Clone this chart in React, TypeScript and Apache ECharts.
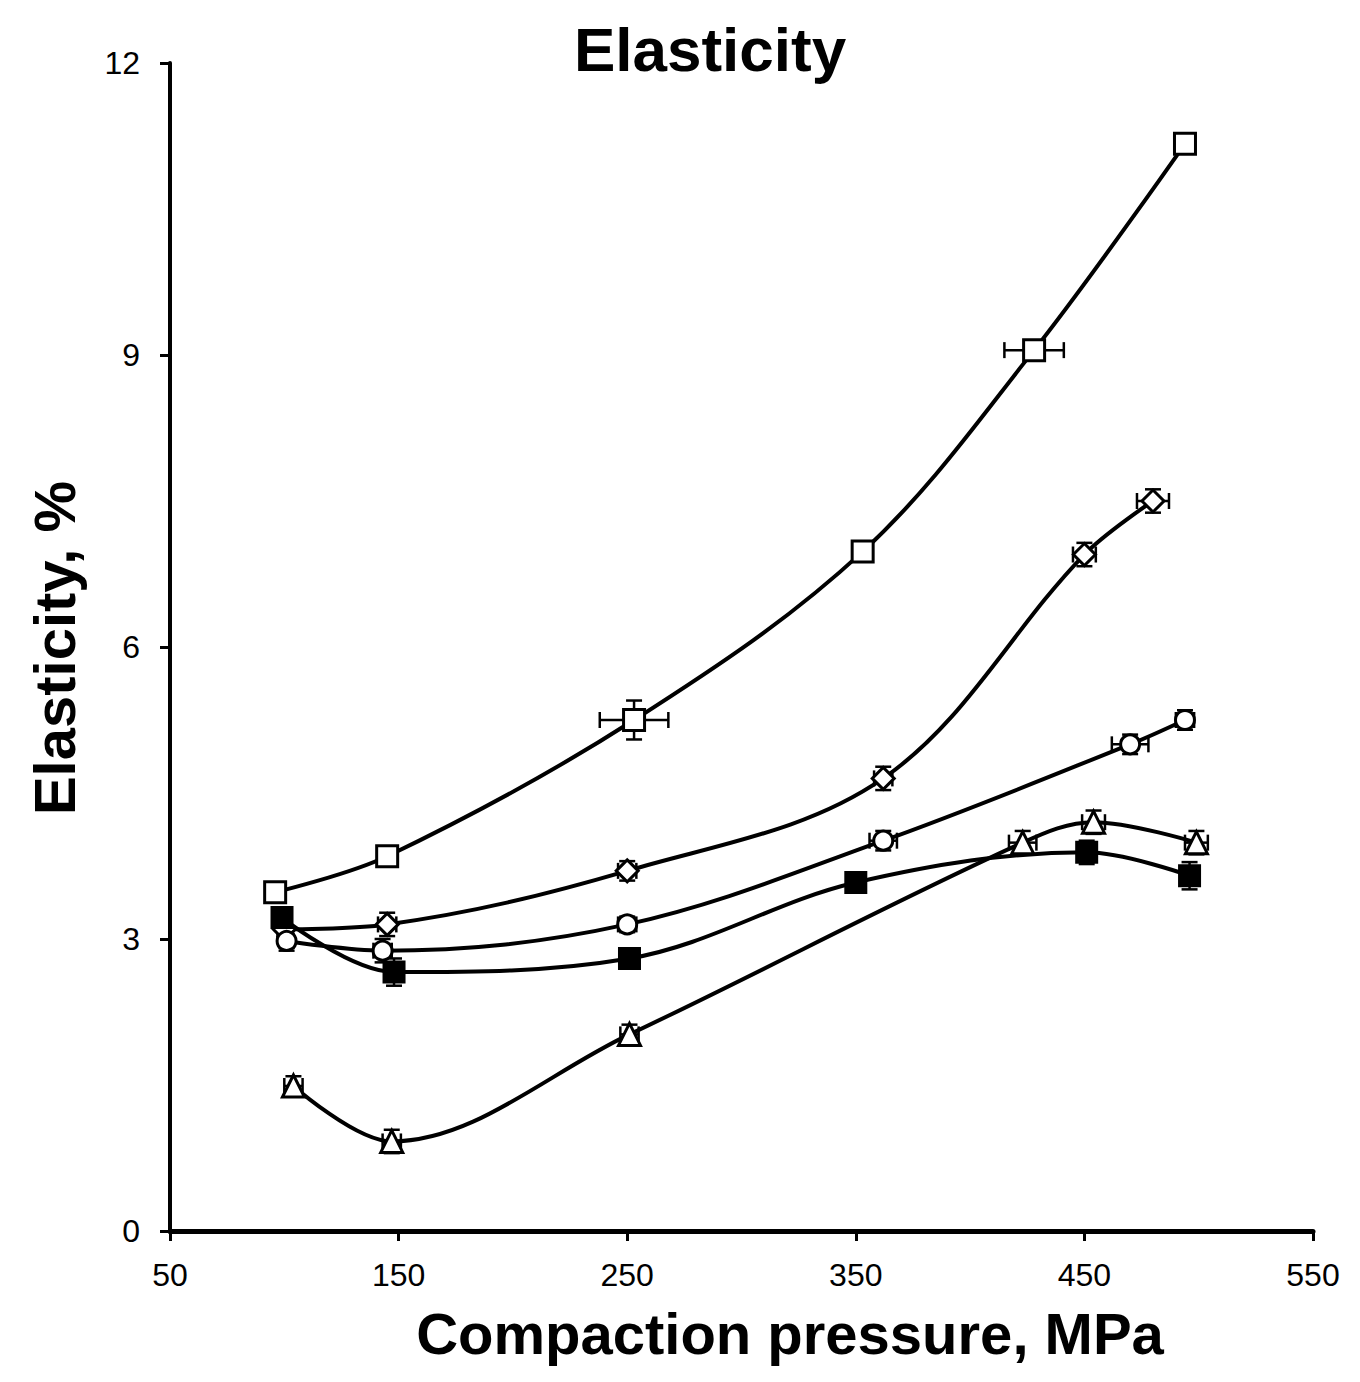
import { useEffect, useRef } from 'react';
import * as echarts from 'echarts';

// axis ticks
const xTicks = [50, 150, 250, 350, 450, 550];
const yTicks = [0, 3, 6, 9, 12];

// each point: [pressure MPa, elasticity %, x error, y error]
const openSquare = [
  [96, 3.48, 3, 0.1],
  [145, 3.85, 3, 0.08],
  [253, 5.25, 15, 0.2],
  [353, 6.98, 4, 0.1],
  [428, 9.05, 13, 0.1],
  [494, 11.17, 3, 0.1],
];
const openDiamond = [
  [100, 3.1, 3, 0.08],
  [145, 3.15, 4, 0.12],
  [250, 3.7, 4, 0.1],
  [362, 4.65, 4, 0.12],
  [450, 6.95, 5, 0.12],
  [480, 7.5, 7, 0.12],
];
const openCircle = [
  [101, 2.98, 3, 0.1],
  [143, 2.88, 4, 0.12],
  [250, 3.15, 4, 0.08],
  [362, 4.01, 6, 0.1],
  [470, 5.0, 8, 0.1],
  [494, 5.25, 4, 0.1],
];
const filledSquare = [
  [99, 3.22, 3, 0.1],
  [148, 2.66, 3, 0.14],
  [251, 2.8, 3, 0.1],
  [350, 3.58, 3, 0.1],
  [451, 3.89, 3, 0.12],
  [496, 3.65, 3, 0.14],
];
const openTriangle = [
  [104, 1.49, 4, 0.1],
  [147, 0.92, 4, 0.12],
  [251, 2.02, 4, 0.1],
  [423, 3.99, 6, 0.12],
  [454, 4.2, 5, 0.12],
  [499, 3.99, 5, 0.12],
];

const seriesDefs = [
  { name: 'Open square', data: openSquare, symbol: 'rect', size: 21, fill: '#fff' },
  { name: 'Open diamond', data: openDiamond, symbol: 'diamond', size: 22, fill: '#fff' },
  { name: 'Open circle', data: openCircle, symbol: 'circle', size: 19, fill: '#fff' },
  { name: 'Filled square', data: filledSquare, symbol: 'rect', size: 20, fill: '#000' },
  { name: 'Open triangle', data: openTriangle, symbol: 'triangle', size: 22, fill: '#fff' },
];

const App = () => {
  const chartRef = useRef<HTMLDivElement>(null);

  useEffect(() => {
    if (!chartRef.current) return;
    const chart = echarts.init(chartRef.current, undefined, { renderer: 'svg' });

    const errorBars = (params: any, api: any) => {
      const x = api.value(0);
      const y = api.value(1);
      const ex = api.value(2);
      const ey = api.value(3);
      const c = api.coord([x, y]);
      const l = api.coord([x - ex, y]);
      const r = api.coord([x + ex, y]);
      const t = api.coord([x, y + ey]);
      const b = api.coord([x, y - ey]);
      const cap = 8;
      const style = { stroke: '#000', lineWidth: 2.5 };
      return {
        type: 'group',
        children: [
          { type: 'line', shape: { x1: l[0], y1: c[1], x2: r[0], y2: c[1] }, style },
          { type: 'line', shape: { x1: l[0], y1: c[1] - cap, x2: l[0], y2: c[1] + cap }, style },
          { type: 'line', shape: { x1: r[0], y1: c[1] - cap, x2: r[0], y2: c[1] + cap }, style },
          { type: 'line', shape: { x1: c[0], y1: t[1], x2: c[0], y2: b[1] }, style },
          { type: 'line', shape: { x1: c[0] - cap, y1: t[1], x2: c[0] + cap, y2: t[1] }, style },
          { type: 'line', shape: { x1: c[0] - cap, y1: b[1], x2: c[0] + cap, y2: b[1] }, style },
        ],
      };
    };

    const series: any[] = [];
    seriesDefs.forEach((s) => {
      series.push({
        name: s.name + ' error',
        type: 'custom',
        renderItem: errorBars,
        encode: { x: 0, y: 1 },
        data: s.data,
        z: 1,
        silent: true,
      });
      series.push({
        name: s.name,
        type: 'line',
        smooth: 0.35,
        data: s.data.map((d) => [d[0], d[1]]),
        symbol: s.symbol,
        symbolSize: s.size,
        showAllSymbol: true,
        lineStyle: { color: '#000', width: 4 },
        itemStyle: { color: s.fill, borderColor: '#000', borderWidth: 3 },
        z: 2,
      });
    });

    const labelFont = {
      fontFamily: 'Liberation Sans, Arial, sans-serif',
      fontSize: 32,
      color: '#000',
    };

    chart.setOption({
      animation: false,
      backgroundColor: '#fff',
      grid: { left: 162, top: 55, width: 1143, height: 1168 },
      xAxis: {
        type: 'value',
        min: xTicks[0],
        max: xTicks[xTicks.length - 1],
        interval: xTicks[1] - xTicks[0],
        splitLine: { show: false },
        axisLine: { lineStyle: { color: '#000', width: 5 } },
        axisTick: { length: 10, lineStyle: { color: '#000', width: 3 } },
        axisLabel: { ...labelFont, margin: 28 },
      },
      yAxis: {
        type: 'value',
        min: yTicks[0],
        max: yTicks[yTicks.length - 1],
        interval: yTicks[1] - yTicks[0],
        splitLine: { show: false },
        axisLine: { show: true, lineStyle: { color: '#000', width: 4 } },
        axisTick: { show: true, length: 10, lineStyle: { color: '#000', width: 3 } },
        axisLabel: { ...labelFont, margin: 30 },
      },
      graphic: [
        {
          type: 'text',
          x: 702,
          y: 41,
          style: {
            text: 'Elasticity',
            font: 'bold 62px Liberation Sans, Arial, sans-serif',
            fill: '#000',
            textAlign: 'center',
            textVerticalAlign: 'middle',
          },
        },
        {
          type: 'text',
          x: 782,
          y: 1325,
          style: {
            text: 'Compaction pressure, MPa',
            font: 'bold 58px Liberation Sans, Arial, sans-serif',
            fill: '#000',
            textAlign: 'center',
            textVerticalAlign: 'middle',
          },
        },
        {
          type: 'text',
          x: 46,
          y: 640,
          rotation: Math.PI / 2,
          style: {
            text: 'Elasticity, %',
            font: 'bold 58px Liberation Sans, Arial, sans-serif',
            fill: '#000',
            textAlign: 'center',
            textVerticalAlign: 'middle',
          },
        },
      ],
      series,
    });

    return () => {
      chart.dispose();
    };
  }, []);

  return <div ref={chartRef} style={{ width: '1344px', height: '1366px' }} />;
};

export default App;
